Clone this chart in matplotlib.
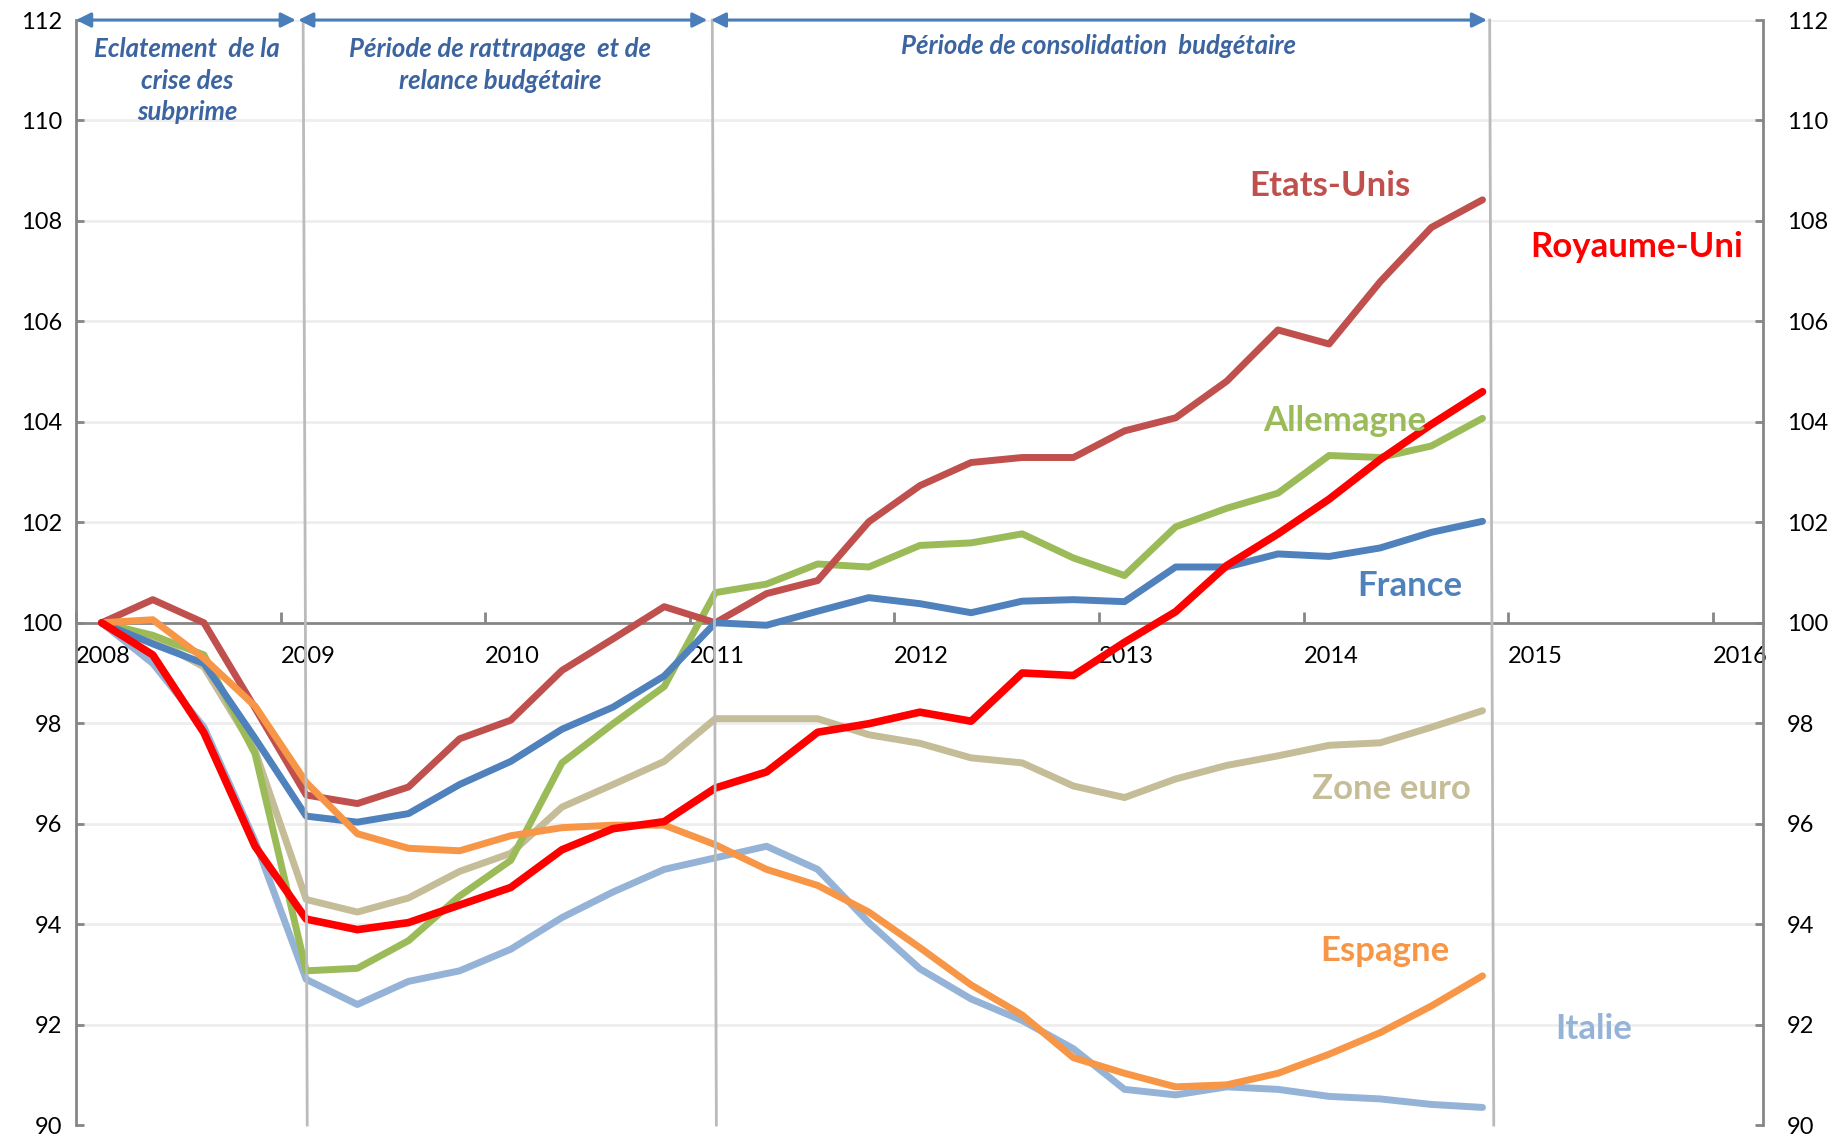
import matplotlib
matplotlib.use("Agg")
import matplotlib.pyplot as plt

# trimestres 2008T1 .. 2014T4 (base 100 = 2008T1)
trimestres = [f"{a}T{q}" for a in range(2008, 2015) for q in range(1, 5)]

etats_unis = [100.0, 100.46, 100.0, 98.3, 96.57, 96.4, 96.73, 97.69, 98.06, 99.05, 99.68, 100.32,
              100.0, 100.58, 100.84, 102.01, 102.73, 103.19, 103.29, 103.29, 103.82, 104.08, 104.81, 105.83,
              105.55, 106.79, 107.87, 108.42]
royaume_uni = [100.0, 99.36, 97.81, 95.55, 94.1, 93.89, 94.03, 94.38, 94.73, 95.48, 95.9, 96.04,
               96.71, 97.03, 97.82, 97.99, 98.22, 98.04, 99.0, 98.95, 99.61, 100.22, 101.14, 101.77,
               102.46, 103.25, 103.95, 104.6]
allemagne = [100.0, 99.75, 99.36, 97.39, 93.07, 93.12, 93.67, 94.56, 95.27, 97.21, 97.99, 98.73,
             100.6, 100.77, 101.17, 101.11, 101.54, 101.59, 101.77, 101.29, 100.94, 101.91, 102.28, 102.58,
             103.33, 103.29, 103.52, 104.07]
france = [100.0, 99.58, 99.19, 97.7, 96.15, 96.03, 96.2, 96.78, 97.24, 97.88, 98.32, 98.94,
          100.0, 99.95, 100.23, 100.5, 100.38, 100.2, 100.43, 100.46, 100.42, 101.11, 101.11, 101.37,
          101.32, 101.49, 101.8, 102.02]
zone_euro = [100.0, 99.68, 99.12, 97.45, 94.49, 94.24, 94.52, 95.05, 95.41, 96.33, 96.78, 97.24,
             98.09, 98.09, 98.09, 97.77, 97.6, 97.31, 97.21, 96.75, 96.52, 96.89, 97.16, 97.35,
             97.56, 97.61, 97.92, 98.25]
espagne = [100.0, 100.06, 99.29, 98.34, 96.82, 95.8, 95.51, 95.46, 95.76, 95.92, 95.97, 95.97,
           95.58, 95.09, 94.77, 94.24, 93.53, 92.79, 92.19, 91.34, 91.03, 90.76, 90.8, 91.03,
           91.41, 91.84, 92.37, 92.97]
italie = [100.0, 99.19, 97.92, 95.65, 92.9, 92.4, 92.86, 93.07, 93.5, 94.13, 94.64, 95.09,
          95.32, 95.55, 95.09, 94.03, 93.11, 92.51, 92.08, 91.52, 90.71, 90.6, 90.76, 90.71,
          90.57, 90.52, 90.41, 90.35]

annees = [2008, 2009, 2010, 2011, 2012, 2013, 2014, 2015, 2016]
y_ticks = [90, 92, 94, 96, 98, 100, 102, 104, 106, 108, 110, 112]

periodes = ["Eclatement  de la\ncrise des\nsubprime",
            "Période de rattrapage  et de\nrelance budgétaire",
            "Période de consolidation  budgétaire"]

plt.rcParams['font.family'] = ['Lato', 'DejaVu Sans']

# position au milieu du trimestre
x = [int(t[:4]) + (int(t[-1]) - 0.5) / 4 for t in trimestres]

series = [
    ("Italie", italie, "#95B3D7", 5),
    ("Zone euro", zone_euro, "#C4BD97", 5),
    ("Allemagne", allemagne, "#9BBB59", 5),
    ("Etats-Unis", etats_unis, "#C0504D", 5),
    ("France", france, "#4F81BD", 5),
    ("Espagne", espagne, "#F79646", 5),
    ("Royaume-Uni", royaume_uni, "#FF0000", 5.5),
]

fig = plt.figure(figsize=(18.33, 11.38), dpi=100)
ax = fig.add_axes([0.0415, 0.0114, 0.9203, 0.9710])

for nom, vals, col, lw in series:
    ax.plot(x, vals, color=col, lw=lw, solid_joinstyle="round", solid_capstyle="round", zorder=3)

ax.set_xlim(2008, 2016.246)
ax.set_ylim(90, 112)

# grille horizontale tres claire
for v in y_ticks:
    if v not in (90, 100):
        ax.axhline(v, color="#EEEEEE", lw=2, zorder=1)

axis_col = "#868686"
ax.spines["top"].set_visible(False)
ax.spines["right"].set_visible(False)
ax.spines["bottom"].set_position(("data", 100))
for s in ("left", "bottom"):
    ax.spines[s].set_color(axis_col)
    ax.spines[s].set_linewidth(2)
ax.spines["bottom"].set_zorder(2)

ax.set_xticks(annees)
ax.set_xticklabels([str(a) for a in annees])
for lbl in ax.get_xticklabels():
    lbl.set_ha("left")
ax.tick_params(axis="x", direction="in", length=8, width=2, color=axis_col,
               labelsize=17, pad=17)
ax.set_yticks(y_ticks)
ax.tick_params(axis="y", direction="in", length=6, width=2, color=axis_col,
               labelsize=17, pad=10)

ax2 = ax.twinx()
ax2.set_ylim(90, 112)
ax2.set_yticks(y_ticks)
for s in ("top", "left", "bottom"):
    ax2.spines[s].set_visible(False)
ax2.spines["right"].set_color(axis_col)
ax2.spines["right"].set_linewidth(2)
ax2.tick_params(axis="y", direction="in", length=6, width=2, color=axis_col,
                labelsize=17, pad=17)

# separations des periodes
for xv in (2009.11, 2011.11, 2014.91):
    ax.plot([xv, xv + 0.02], [112, 90], color="#BBBBBB", lw=2, zorder=4, clip_on=False)

# fleches en haut
fleche_col = "#4A7EBB"
for x0, x1 in [(2008.0, 2009.074), (2009.086, 2011.086), (2011.103, 2014.897)]:
    ax.annotate("", xy=(x1, 112), xytext=(x0, 112),
                arrowprops=dict(arrowstyle="<|-|>", color=fleche_col, lw=2.2,
                                mutation_scale=22, shrinkA=0, shrinkB=0),
                annotation_clip=False, zorder=5)

txt_col = "#3B64A0"
ax.text(2008.543, 111.66, periodes[0], ha="center", va="top", fontsize=18.5,
        fontweight="bold", fontstyle="italic", color=txt_col, linespacing=1.38)
ax.text(2010.074, 111.66, periodes[1], ha="center", va="top", fontsize=18.5,
        fontweight="bold", fontstyle="italic", color=txt_col, linespacing=1.38)
ax.text(2013.0, 111.72, periodes[2], ha="center", va="top", fontsize=18.5,
        fontweight="bold", fontstyle="italic", color=txt_col)

# etiquettes des series
etiquettes = {
    "Etats-Unis": (2014.131, 108.69),
    "Royaume-Uni": (2015.629, 107.48),
    "Allemagne": (2014.2, 104.01),
    "France": (2014.52, 100.73),
    "Zone euro": (2014.43, 96.70),
    "Espagne": (2014.40, 93.47),
    "Italie": (2015.42, 91.91),
}
for nom, vals, col, lw in series:
    tx, ty = etiquettes[nom]
    ax.text(tx, ty, nom, color=col, fontsize=25, fontweight="bold",
            ha="center", va="center", zorder=6)

fig.savefig("out.png", dpi=100)
